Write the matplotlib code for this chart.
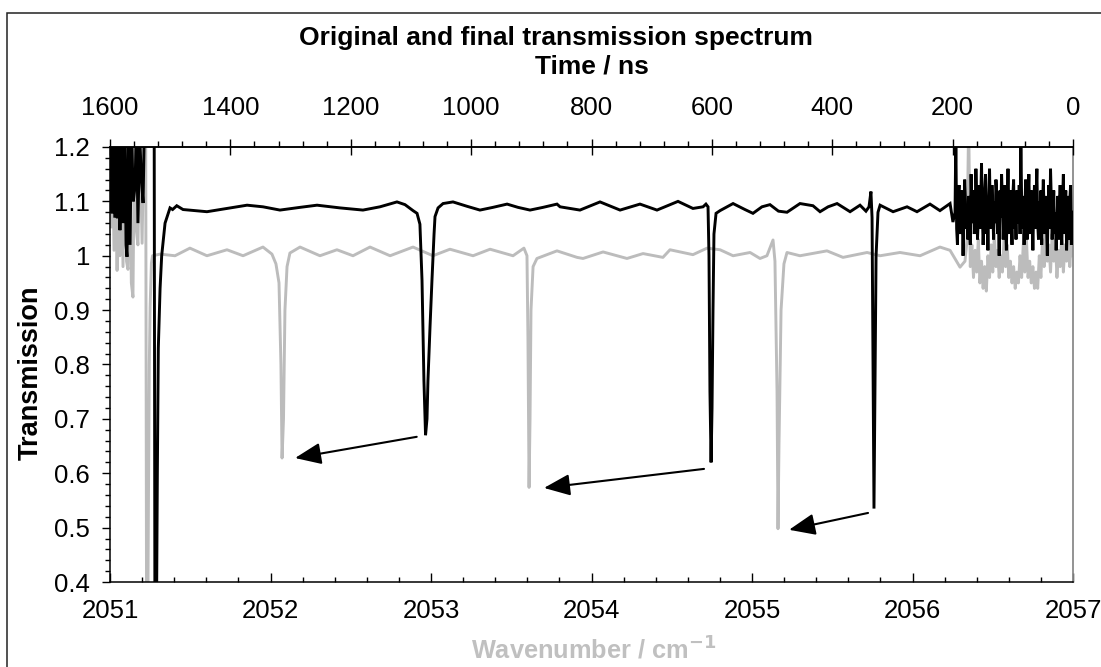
import matplotlib
matplotlib.use("Agg")
import matplotlib.pyplot as plt
from matplotlib.ticker import MultipleLocator, FixedLocator, FixedFormatter
from matplotlib.patches import Rectangle

plt.rcParams['font.family'] = ['Liberation Sans', 'DejaVu Sans']

# ---------------- data ----------------
# final spectrum (black): noisy start, main absorption region, noisy end
black_start_wn = [2051.005, 2051.012, 2051.020, 2051.030, 2051.040, 2051.046, 2051.054, 2051.062,
                  2051.072, 2051.082, 2051.092, 2051.100, 2051.106, 2051.114, 2051.125, 2051.134,
                  2051.145, 2051.156, 2051.165, 2051.174, 2051.185, 2051.196, 2051.206, 2051.215]
black_start_T = [1.25, 1.078, 1.24, 1.07, 1.22, 1.069, 1.25, 1.047,
                 1.23, 1.06, 1.25, 1.02, 0.998, 1.21, 1.02, 1.24,
                 1.10, 1.127, 1.25, 1.06, 1.22, 1.14, 1.097, 1.25]

black_main_wn = [2051.275, 2051.28, 2051.29, 2051.295, 2051.301, 2051.312,
                 2051.322, 2051.343, 2051.374, 2051.39, 2051.416,
                 2051.455, 2051.604, 2051.729, 2051.854, 2051.953, 2052.059, 2052.184, 2052.290,
                 2052.433, 2052.576, 2052.682, 2052.788, 2052.838, 2052.888, 2052.913, 2052.931,
                 2052.944, 2052.956, 2052.966, 2052.975, 2052.981, 2052.994, 2053.006, 2053.019,
                 2053.025, 2053.044, 2053.075, 2053.137, 2053.224, 2053.305, 2053.386, 2053.474,
                 2053.542, 2053.617, 2053.698, 2053.785, 2053.804, 2053.928, 2054.053, 2054.178,
                 2054.302, 2054.408, 2054.539, 2054.632, 2054.695, 2054.713, 2054.726, 2054.732,
                 2054.738, 2054.745, 2054.751, 2054.757, 2054.763, 2054.776, 2054.801, 2054.882,
                 2054.956, 2055.006, 2055.062, 2055.112, 2055.165, 2055.218, 2055.299, 2055.380,
                 2055.424, 2055.474, 2055.530, 2055.611, 2055.673, 2055.710, 2055.729, 2055.741,
                 2055.748, 2055.754, 2055.760, 2055.766, 2055.773, 2055.785, 2055.798, 2055.879,
                 2055.966, 2056.028, 2056.109, 2056.171, 2056.234, 2056.252]
black_main_T = [1.30, 0.30, 0.35, 0.60, 0.83, 0.94,
                1.00, 1.06, 1.088, 1.085, 1.092,
                1.085, 1.081, 1.087, 1.093, 1.090, 1.084, 1.089, 1.093,
                1.088, 1.084, 1.090, 1.099, 1.094, 1.083, 1.078, 1.058,
                0.955, 0.77, 0.67, 0.70, 0.77, 0.87, 0.955, 1.04,
                1.072, 1.088, 1.096, 1.099, 1.091, 1.084, 1.089, 1.095,
                1.089, 1.084, 1.089, 1.095, 1.090, 1.084, 1.099, 1.084,
                1.095, 1.084, 1.100, 1.087, 1.090, 1.095, 1.090, 1.00,
                0.75, 0.62, 0.72, 0.90, 1.04, 1.078, 1.083, 1.096,
                1.085, 1.078, 1.090, 1.094, 1.082, 1.080, 1.096, 1.092,
                1.081, 1.090, 1.096, 1.081, 1.093, 1.082, 1.090, 1.118,
                1.070, 0.80, 0.535, 0.75, 1.00, 1.080, 1.093, 1.081,
                1.090, 1.081, 1.095, 1.083, 1.096, 1.062]

black_end_wn = [2056.265, 2056.270, 2056.275, 2056.280, 2056.285, 2056.290, 2056.295, 2056.300, 2056.305, 2056.310,
                2056.315, 2056.320, 2056.325, 2056.330, 2056.335, 2056.340, 2056.345, 2056.350, 2056.355, 2056.360,
                2056.365, 2056.370, 2056.375, 2056.380, 2056.385, 2056.390, 2056.395, 2056.400, 2056.405, 2056.410,
                2056.415, 2056.420, 2056.425, 2056.430, 2056.435, 2056.440, 2056.445, 2056.450, 2056.455, 2056.460,
                2056.465, 2056.470, 2056.475, 2056.480, 2056.485, 2056.490, 2056.495, 2056.500, 2056.505, 2056.510,
                2056.515, 2056.520, 2056.525, 2056.530, 2056.535, 2056.540, 2056.545, 2056.550, 2056.555, 2056.560,
                2056.565, 2056.570, 2056.575, 2056.580, 2056.585, 2056.590, 2056.595, 2056.600, 2056.605, 2056.610,
                2056.615, 2056.620, 2056.625, 2056.630, 2056.635, 2056.640, 2056.645, 2056.650, 2056.655, 2056.660,
                2056.665, 2056.670, 2056.675, 2056.680, 2056.685, 2056.690, 2056.695, 2056.700, 2056.705, 2056.710,
                2056.715, 2056.720, 2056.725, 2056.730, 2056.735, 2056.740, 2056.745, 2056.750, 2056.755, 2056.760,
                2056.765, 2056.770, 2056.775, 2056.780, 2056.785, 2056.790, 2056.795, 2056.800, 2056.805, 2056.810,
                2056.815, 2056.820, 2056.825, 2056.830, 2056.835, 2056.840, 2056.845, 2056.850, 2056.855, 2056.860,
                2056.865, 2056.870, 2056.875, 2056.880, 2056.885, 2056.890, 2056.895, 2056.900, 2056.905, 2056.910,
                2056.915, 2056.920, 2056.925, 2056.930, 2056.935, 2056.940, 2056.945, 2056.950, 2056.955, 2056.960,
                2056.965, 2056.970, 2056.975, 2056.980, 2056.985, 2056.990, 2056.995, 2057.000]
black_end_T = [1.08, 1.22, 1.05, 1.02, 1.11, 1.13, 1.06, 1.04, 1.12, 1.08,
               1.00, 1.07, 1.14, 1.10, 1.05, 1.09, 1.03, 1.11, 1.07, 1.02,
               1.15, 1.09, 1.06, 1.12, 1.04, 1.08, 1.16, 1.11, 1.03, 1.07,
               1.13, 1.05, 1.10, 1.17, 1.08, 1.02, 1.06, 1.12, 1.15, 1.04,
               1.09, 1.01, 1.11, 1.16, 1.07, 1.05, 1.13, 1.09, 1.03, 1.10,
               1.06, 1.14, 1.11, 1.04, 1.08, 1.00, 1.12, 1.07, 1.15, 1.10,
               1.03, 1.08, 1.13, 1.06, 1.01, 1.10, 1.16, 1.09, 1.04, 1.12,
               1.07, 1.02, 1.11, 1.14, 1.05, 1.09, 1.03, 1.12, 1.08, 1.06,
               1.13, 1.04, 1.22, 1.10, 1.05, 1.11, 1.02, 1.08, 1.14, 1.06,
               1.03, 1.10, 1.15, 1.07, 1.04, 1.12, 1.08, 1.01, 1.09, 1.13,
               1.05, 1.11, 1.16, 1.06, 1.03, 1.10, 1.07, 1.12, 1.02, 1.09,
               1.14, 1.08, 1.04, 1.11, 1.06, 1.00, 1.09, 1.13, 1.05, 1.16,
               1.10, 1.03, 1.07, 1.12, 1.04, 1.08, 1.01, 1.06, 1.11, 1.03,
               1.09, 1.13, 1.06, 1.02, 1.10, 1.15, 1.04, 1.08, 1.12, 1.01,
               1.07, 1.11, 1.03, 1.10, 1.13, 1.02, 1.06, 1.08]

# original spectrum (grey)
grey_start_wn = [2051.005, 2051.015, 2051.025, 2051.035, 2051.044, 2051.053, 2051.062, 2051.071,
                 2051.081, 2051.092, 2051.103, 2051.112, 2051.122, 2051.133, 2051.143, 2051.152,
                 2051.163, 2051.174, 2051.185, 2051.200, 2051.212]
grey_start_T = [1.053, 1.22, 1.01, 1.24, 0.973, 1.21, 1.00, 1.23,
                0.98, 1.25, 0.99, 0.975, 1.22, 0.95, 0.924, 1.21,
                1.05, 1.02, 1.24, 1.023, 1.25]

grey_main_wn = [2051.222, 2051.228, 2051.236, 2051.240, 2051.245, 2051.250,
                2051.258, 2051.265, 2051.312, 2051.405, 2051.498, 2051.604, 2051.729, 2051.829,
                2051.953, 2052.009, 2052.034, 2052.053, 2052.065, 2052.072, 2052.081, 2052.090,
                2052.103, 2052.121, 2052.184, 2052.308, 2052.414, 2052.514, 2052.620, 2052.745,
                2052.888, 2053.012, 2053.118, 2053.262, 2053.368, 2053.511, 2053.579, 2053.598,
                2053.604, 2053.611, 2053.617, 2053.623, 2053.636, 2053.660, 2053.785, 2053.910,
                2053.947, 2054.072, 2054.221, 2054.321, 2054.445, 2054.489, 2054.632, 2054.720,
                2054.801, 2054.882, 2054.988, 2055.050, 2055.093, 2055.131, 2055.143, 2055.156,
                2055.162, 2055.168, 2055.181, 2055.199, 2055.218, 2055.299, 2055.467, 2055.567,
                2055.717, 2055.798, 2055.922, 2056.047, 2056.171, 2056.234, 2056.296, 2056.327]
grey_main_T = [1.30, 0.30, 0.35, 0.57, 0.80, 0.906,
               0.986, 1.000, 1.003, 1.000, 1.014, 1.000, 1.011, 1.000,
               1.016, 1.003, 0.985, 0.950, 0.800, 0.628, 0.700, 0.900,
               0.980, 1.005, 1.016, 1.000, 1.011, 1.000, 1.016, 1.000,
               1.016, 1.000, 1.012, 1.000, 1.012, 1.000, 1.014, 1.000,
               0.850, 0.574, 0.700, 0.900, 0.980, 0.995, 1.009, 0.997,
               0.995, 1.007, 0.995, 1.004, 0.997, 1.011, 1.002, 1.014,
               1.011, 1.000, 1.006, 0.995, 1.000, 1.029, 0.990, 0.750,
               0.498, 0.650, 0.900, 0.985, 1.006, 1.000, 1.009, 0.997,
               1.006, 1.000, 1.006, 1.000, 1.016, 1.010, 0.979, 0.990]

grey_end_wn = [2056.34, 2056.35, 2056.36, 2056.37, 2056.38, 2056.39, 2056.40, 2056.41, 2056.42,
               2056.43, 2056.44, 2056.45, 2056.46, 2056.47, 2056.48, 2056.49, 2056.50, 2056.51,
               2056.52, 2056.53, 2056.54, 2056.55, 2056.56, 2056.57, 2056.58, 2056.59, 2056.60,
               2056.61, 2056.62, 2056.63, 2056.64, 2056.65, 2056.66, 2056.67, 2056.68, 2056.69,
               2056.70, 2056.71, 2056.72, 2056.73, 2056.74, 2056.75, 2056.76, 2056.77, 2056.78,
               2056.79, 2056.80, 2056.81, 2056.82, 2056.83, 2056.84, 2056.85, 2056.86, 2056.87,
               2056.88, 2056.89, 2056.90, 2056.91, 2056.92, 2056.93, 2056.94, 2056.95, 2056.96,
               2056.97, 2056.98, 2056.99, 2057.0]
grey_end_T = [1.03, 1.25, 0.98, 1.02, 0.96, 1.01, 0.97, 1.03, 0.95,
              0.99, 0.94, 0.98, 0.935, 1.00, 0.96, 1.02, 0.97, 1.04,
              0.98, 1.01, 0.96, 1.00, 0.97, 1.03, 0.98, 1.02, 0.96,
              0.99, 0.95, 0.98, 0.94, 0.97, 0.95, 1.00, 0.96, 1.02,
              0.97, 1.03, 0.96, 0.99, 0.95, 0.98, 0.94, 0.97, 0.94,
              1.00, 0.96, 1.03, 0.98, 1.05, 0.99, 1.02, 0.97, 1.04,
              0.99, 1.03, 0.96, 1.01, 0.98, 1.04, 0.97, 1.02, 0.99,
              1.05, 0.98, 1.03, 1.00]

# arrows: (tail wn, tail T) -> (head wn, head T)
arrow_tail_wn = [2052.911, 2054.701, 2055.723]
arrow_tail_T = [0.667, 0.608, 0.527]
arrow_head_wn = [2052.153, 2053.704, 2055.231]
arrow_head_T = [0.628, 0.573, 0.496]

x_ticks = [2051, 2052, 2053, 2054, 2055, 2056, 2057]
x_tick_labels = ['2051', '2052', '2053', '2054', '2055', '2056', '2057']
y_ticks = [0.4, 0.5, 0.6, 0.7, 0.8, 0.9, 1.0, 1.1, 1.2]
y_tick_labels = ['0.4', '0.5', '0.6', '0.7', '0.8', '0.9', '1', '1.1', '1.2']
time_ticks = [1600, 1400, 1200, 1000, 800, 600, 400, 200, 0]
time_tick_labels = ['1600', '1400', '1200', '1000', '800', '600', '400', '200', '0']

title = 'Original and final transmission spectrum'
top_label = 'Time / ns'
x_label = 'Wavenumber / cm$^{\\mathbf{-1}}$'
y_label = 'Transmission'

black_wn = black_start_wn + black_main_wn + black_end_wn
black_T = black_start_T + black_main_T + black_end_T
grey_wn = grey_start_wn + grey_main_wn + grey_end_wn
grey_T = grey_start_T + grey_main_T + grey_end_T

# ---------------- figure ----------------
W, H = 1101, 667
PX = 72 / 100  # points per pixel
fig = plt.figure(figsize=(W / 100, H / 100), dpi=100)
ax = fig.add_axes([110 / W, 1 - 582 / H, (1073 - 110) / W, (582 - 147) / H])

GREY = '#bcbcbc'
ax.plot(grey_wn, grey_T, color=GREY, lw=2.1, solid_joinstyle='round', zorder=2)
ax.plot(black_wn, black_T, color='black', lw=2.1, solid_joinstyle='miter', zorder=3)

ax.set_xlim(2051, 2057)
ax.set_ylim(0.4, 1.2)

TICK_FS = 18.5
ax.xaxis.set_major_locator(FixedLocator(x_ticks))
ax.xaxis.set_major_formatter(FixedFormatter(x_tick_labels))
ax.xaxis.set_minor_locator(MultipleLocator(0.2))
ax.yaxis.set_major_locator(FixedLocator(y_ticks))
ax.yaxis.set_major_formatter(FixedFormatter(y_tick_labels))
ax.yaxis.set_minor_locator(MultipleLocator(0.02))

ax.tick_params(axis='x', which='major', direction='in', length=9 * PX, width=1.0,
               pad=17 * PX, labelsize=TICK_FS, top=False)
ax.tick_params(axis='x', which='minor', direction='in', length=5 * PX, width=1.0, top=False)
ax.tick_params(axis='y', which='major', direction='out', length=8 * PX, width=1.0,
               pad=12 * PX, labelsize=TICK_FS, right=False)
ax.tick_params(axis='y', which='minor', direction='out', length=5 * PX, width=1.0, right=False)

for s in ['left', 'bottom', 'top']:
    ax.spines[s].set_linewidth(1.1)
    ax.spines[s].set_color('black')
ax.spines['right'].set_color('#8a8a8a')
ax.spines['right'].set_linewidth(1.3)

# top time axis
ax2 = ax.twiny()
ax2.set_xlim(1600, 0)
ax2.xaxis.set_major_locator(FixedLocator(time_ticks))
ax2.xaxis.set_major_formatter(FixedFormatter(time_tick_labels))
ax2.xaxis.set_minor_locator(MultipleLocator(40))
ax2.tick_params(axis='x', which='major', direction='inout', length=16 * PX, width=1.0,
                pad=19 * PX, labelsize=TICK_FS)
ax2.tick_params(axis='x', which='minor', direction='out', length=6 * PX, width=1.0)
for s in ['left', 'bottom', 'right']:
    ax2.spines[s].set_visible(False)
ax2.spines['top'].set_linewidth(1.1)

# arrows
for tw, tT, hw, hT in zip(arrow_tail_wn, arrow_tail_T, arrow_head_wn, arrow_head_T):
    ax.annotate('', xy=(hw, hT), xytext=(tw, tT),
                arrowprops=dict(arrowstyle='-|>,head_length=0.8,head_width=0.33',
                                color='black', lw=1.5, shrinkA=0, shrinkB=0,
                                mutation_scale=20), zorder=5)

# texts
fig.text(556 / W, 1 - 38 / H, title, ha='center', va='center', fontsize=19,
         fontweight='bold')
fig.text(592 / W, 1 - 66 / H, top_label, ha='center', va='center', fontsize=19,
         fontweight='bold')
fig.text(594 / W, 1 - 650 / H, x_label, ha='center', va='center', fontsize=18.3,
         fontweight='bold', color='#c0c0c0')
fig.text(31 / W, 1 - 373 / H, y_label, ha='center', va='center', fontsize=19.5,
         fontweight='bold', rotation=90)

# outer frame
fig.patches.append(Rectangle((7 / W, -0.05), 1.2, 1 - 12.5 / H + 0.05,
                             transform=fig.transFigure, fill=False,
                             edgecolor='#222222', lw=1.1, clip_on=False))

fig.savefig('out.png', dpi=100)
